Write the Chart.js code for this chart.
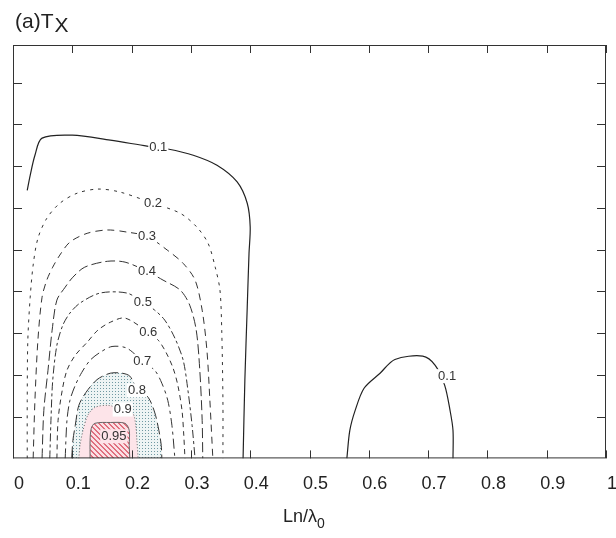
<!DOCTYPE html>
<html>
<head>
<meta charset="utf-8">
<script src="https://cdn.jsdelivr.net/npm/chart.js@4.4.1/dist/chart.umd.min.js"></script>
<style>
  html, body { margin: 0; padding: 0; background: #fff; }
</style>
</head>
<body>
<canvas id="chart" width="616" height="538"></canvas>
<script>
// tick labels of the horizontal axis, y axis carries no labels
const xTickLabels = ['0', '0.1', '0.2', '0.3', '0.4', '0.5', '0.6', '0.7', '0.8', '0.9', '1'];
const yTickValues = [0.1, 0.2, 0.3, 0.4, 0.5, 0.6, 0.7, 0.8, 0.9];

// contour lines (x = Ln/lambda0, y = unlabelled axis)
const c01aX = [0.024, 0.029, 0.037, 0.049, 0.100, 0.164, 0.226, 0.261, 0.304, 0.344, 0.378, 0.395, 0.400, 0.398, 0.395, 0.391, 0.388];
const c01aY = [0.642, 0.678, 0.726, 0.767, 0.774, 0.762, 0.748, 0.741, 0.726, 0.702, 0.662, 0.611, 0.554, 0.491, 0.362, 0.187, 0];
const c01bX = [0.563, 0.568, 0.577, 0.592, 0.619, 0.644, 0.691, 0.712, 0.728, 0.737, 0.742, 0.742];
const c01bY = [0, 0.067, 0.115, 0.168, 0.204, 0.237, 0.245, 0.223, 0.175, 0.115, 0.067, 0];
const c02X = [0.024, 0.024, 0.025, 0.029, 0.034, 0.042, 0.057, 0.079, 0.108, 0.143, 0.180, 0.236, 0.282, 0.310, 0.329, 0.341, 0.349, 0.352, 0.354, 0.354];
const c02Y = [0, 0.139, 0.283, 0.386, 0.463, 0.527, 0.575, 0.611, 0.635, 0.645, 0.638, 0.611, 0.587, 0.554, 0.515, 0.458, 0.403, 0.307, 0.139, 0];
const c03X = [0.034, 0.037, 0.042, 0.049, 0.057, 0.067, 0.079, 0.096, 0.125, 0.159, 0.192, 0.226, 0.260, 0.287, 0.307, 0.319, 0.327, 0.332, 0.337];
const c03Y = [0, 0.139, 0.283, 0.386, 0.427, 0.458, 0.487, 0.518, 0.539, 0.547, 0.542, 0.532, 0.499, 0.467, 0.427, 0.355, 0.259, 0.139, 0];
const c04X = [0.049, 0.052, 0.059, 0.066, 0.074, 0.088, 0.101, 0.121, 0.159, 0.189, 0.226, 0.253, 0.282, 0.298, 0.309, 0.315, 0.319, 0.320];
const c04Y = [0, 0.115, 0.211, 0.307, 0.379, 0.410, 0.434, 0.458, 0.472, 0.470, 0.448, 0.427, 0.403, 0.367, 0.307, 0.211, 0.091, 0];
const c05X = [0.062, 0.064, 0.067, 0.074, 0.084, 0.096, 0.113, 0.147, 0.192, 0.219, 0.239, 0.256, 0.273, 0.287, 0.295, 0.302, 0.307];
const c05Y = [0, 0.091, 0.187, 0.271, 0.319, 0.348, 0.372, 0.396, 0.396, 0.374, 0.355, 0.331, 0.288, 0.235, 0.163, 0.079, 0];
const c06X = [0.074, 0.076, 0.083, 0.091, 0.105, 0.125, 0.143, 0.164, 0.189, 0.228, 0.245, 0.258, 0.270, 0.278, 0.285, 0.288, 0.290];
const c06Y = [0, 0.091, 0.163, 0.211, 0.247, 0.278, 0.307, 0.326, 0.336, 0.302, 0.283, 0.254, 0.216, 0.175, 0.115, 0.055, 0];
const c07X = [0.088, 0.091, 0.096, 0.105, 0.116, 0.130, 0.147, 0.167, 0.192, 0.218, 0.239, 0.251, 0.261, 0.268, 0.273];
const c07Y = [0, 0.091, 0.139, 0.175, 0.206, 0.235, 0.254, 0.268, 0.264, 0.233, 0.211, 0.180, 0.139, 0.079, 0];
const c08X = [0.099, 0.101, 0.105, 0.111, 0.123, 0.142, 0.164, 0.184, 0.197, 0.209, 0.228, 0.239, 0.246, 0.250, 0.251];
const c08Y = [0, 0.043, 0.079, 0.127, 0.158, 0.189, 0.204, 0.204, 0.197, 0.168, 0.146, 0.110, 0.067, 0.031, 0];
const c09X = [0.111, 0.113, 0.118, 0.126, 0.138, 0.160, 0.185, 0.202, 0.207, 0.209, 0.211];
const c09Y = [0, 0.031, 0.067, 0.103, 0.122, 0.127, 0.117, 0.108, 0.079, 0.043, 0];
const c095X = [0.130, 0.130, 0.132, 0.138, 0.164, 0.189, 0.196, 0.196, 0.197];
const c095Y = [0, 0.043, 0.072, 0.084, 0.086, 0.084, 0.067, 0.031, 0];

// contour labels
const labelText = ['0.1', '0.1', '0.2', '0.3', '0.4', '0.5', '0.6', '0.7', '0.8', '0.9', '0.95'];
const labelX = [0.245, 0.732, 0.236, 0.226, 0.226, 0.219, 0.228, 0.218, 0.209, 0.185, 0.170];
const labelY = [0.744, 0.197, 0.611, 0.532, 0.448, 0.374, 0.302, 0.233, 0.163, 0.117, 0.053];

const FONT = '"Liberation Sans", Arial, Helvetica, sans-serif';
const canvas = document.getElementById('chart');
const ctx = canvas.getContext('2d');

function pts(xs, ys) {
    return xs.map((x, i) => ({ x: x, y: ys[i] }));
}

function stipple() {
    const c = document.createElement('canvas');
    c.width = 3; c.height = 3;
    const g = c.getContext('2d');
    g.fillStyle = '#eef4f4';
    g.fillRect(0, 0, 3, 3);
    g.fillStyle = '#7099a2';
    g.fillRect(1, 1, 1, 1);
    return ctx.createPattern(c, 'repeat');
}

function hatch() {
    const c = document.createElement('canvas');
    c.width = 5; c.height = 5;
    const g = c.getContext('2d');
    g.fillStyle = '#fbe0e5';
    g.fillRect(0, 0, 5, 5);
    g.fillStyle = '#e0707f';
    for (let i = 0; i < 5; i++) {
        g.fillRect(i, i, 1, 1);
        g.fillRect((i + 1) % 5, i, 1, 1);
    }
    return ctx.createPattern(c, 'repeat');
}

function contour(xs, ys, dash, extra) {
    return Object.assign({
        data: pts(xs, ys),
        showLine: true,
        borderColor: '#333',
        borderWidth: 1,
        borderDash: dash,
        pointRadius: 0,
        tension: 0.3,
        fill: false,
        order: 5
    }, extra || {});
}

const datasets = [
    contour(c095X, c095Y, [], { fill: 'origin', backgroundColor: hatch(), borderColor: '#666', order: 0 }),
    contour(c09X, c09Y, [1, 2], { fill: 'origin', backgroundColor: '#fde4e9', borderColor: '#666', order: 1 }),
    contour(c08X, c08Y, [12, 4], { fill: 'origin', backgroundColor: stipple(), order: 2 }),
    contour(c07X, c07Y, [10, 4, 3, 4]),
    contour(c06X, c06Y, [5, 4]),
    contour(c05X, c05Y, [8, 3, 3, 3]),
    contour(c04X, c04Y, [10, 4]),
    contour(c03X, c03Y, [7, 5]),
    contour(c02X, c02Y, [3, 5]),
    contour(c01aX, c01aY, [], { borderColor: '#222', borderWidth: 1.2 }),
    contour(c01bX, c01bY, [], { borderColor: '#222', borderWidth: 1.2 })
];

const framePlugin = {
    id: 'frame',
    afterDatasetsDraw(chart) {
        const { ctx, chartArea: a, scales: { x, y } } = chart;
        ctx.save();
        // contour labels with a blank box behind them
        ctx.font = '13px ' + FONT;
        ctx.textAlign = 'center';
        ctx.textBaseline = 'middle';
        labelText.forEach((t, i) => {
            const px = x.getPixelForValue(labelX[i]);
            const py = y.getPixelForValue(labelY[i]);
            const w = ctx.measureText(t).width;
            ctx.fillStyle = t === '0.95' ? '#fde4e9' : '#fff';
            ctx.fillRect(px - w / 2 - 1, py - 7, w + 2, 14);
            ctx.fillStyle = '#333';
            ctx.fillText(t, px, py);
        });
        // frame and inward ticks
        ctx.strokeStyle = '#333';
        ctx.lineWidth = 1;
        ctx.strokeRect(a.left + 0.5, a.top + 0.5, a.right - a.left - 1, a.bottom - a.top - 1);
        ctx.beginPath();
        x.ticks.forEach(t => {
            const px = Math.round(x.getPixelForValue(t.value)) + 0.5;
            ctx.moveTo(px, a.bottom); ctx.lineTo(px, a.bottom - 8);
            ctx.moveTo(px, a.top); ctx.lineTo(px, a.top + 8);
        });
        yTickValues.forEach(v => {
            const py = Math.round(y.getPixelForValue(v)) + 0.5;
            ctx.moveTo(a.left, py); ctx.lineTo(a.left + 9, py);
            ctx.moveTo(a.right, py); ctx.lineTo(a.right - 9, py);
        });
        ctx.stroke();
        // panel title (a)T_X
        ctx.fillStyle = '#222';
        ctx.textAlign = 'left';
        ctx.textBaseline = 'alphabetic';
        ctx.font = '21px ' + FONT;
        ctx.fillText('(a)T', 15, 28);
        const tw = ctx.measureText('(a)T').width;
        ctx.fillText('X', 15 + tw + 1, 32);
        // x axis title Ln/λ0
        ctx.font = '18px ' + FONT;
        const main = 'Ln/\u03bb';
        const mw = ctx.measureText(main).width;
        ctx.font = '14px ' + FONT;
        const sw = ctx.measureText('0').width;
        const sx = 304 - (mw + sw) / 2;
        ctx.font = '18px ' + FONT;
        ctx.fillText(main, sx, 522);
        ctx.font = '14px ' + FONT;
        ctx.fillText('0', sx + mw, 528);
        ctx.restore();
    }
};

new Chart(ctx, {
    type: 'scatter',
    data: { datasets: datasets },
    options: {
        responsive: false,
        animation: false,
        layout: { padding: { left: 13, top: 45, right: 10, bottom: 28 } },
        plugins: { legend: { display: false }, tooltip: { enabled: false } },
        scales: {
            x: {
                type: 'linear',
                min: 0,
                max: 1,
                border: { display: false },
                grid: { display: false, drawTicks: false },
                afterFit: scale => { scale.paddingLeft = 0; scale.paddingRight = 0; },
                ticks: {
                    stepSize: 0.1,
                    padding: 15,
                    labelOffset: 6,
                    color: '#222',
                    font: { family: FONT, size: 18 },
                    callback: (v, i) => xTickLabels[i]
                }
            },
            y: {
                type: 'linear',
                display: false,
                min: 0,
                max: 0.99
            }
        }
    },
    plugins: [framePlugin]
});
</script>
</body>
</html>
